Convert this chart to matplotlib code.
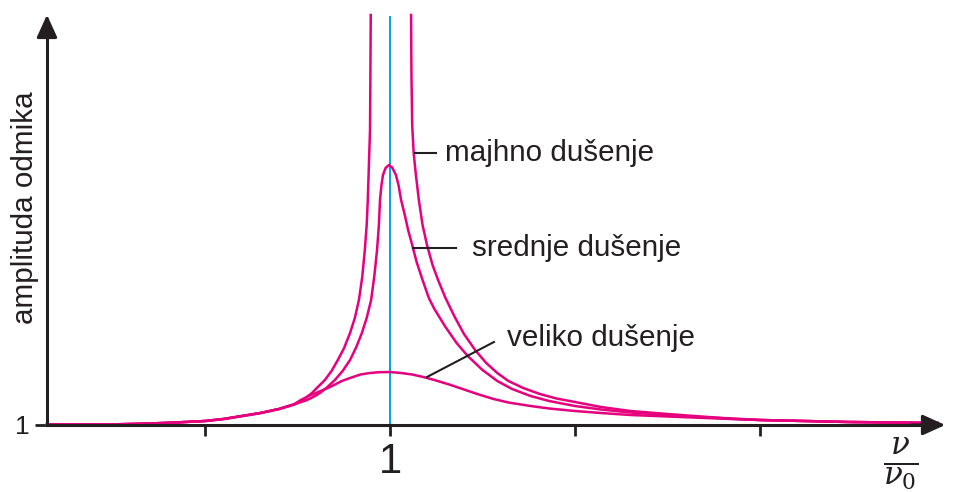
import matplotlib
matplotlib.use('Agg')
import matplotlib.pyplot as plt
import numpy as np

plt.rcParams['font.family'] = ['Liberation Sans', 'DejaVu Sans']
plt.rcParams['mathtext.fontset'] = 'dejavuserif'

# values (x = nu/nu0, y = amplitude, 1 at the axis)
x_common = [0.073, 0.15, 0.25, 0.35, 0.42, 0.5, 0.55, 0.6, 0.65, 0.7, 0.74]
y_common = [1.005, 1.005, 1.006, 1.015, 1.025, 1.04, 1.06, 1.09, 1.12, 1.16, 1.205]

x_large = [0.757, 0.78, 0.80, 0.838, 0.87, 0.892, 0.92, 0.946, 0.97,
           1.0, 1.03, 1.06, 1.09, 1.12, 1.16, 1.20, 1.24, 1.28, 1.32, 1.38,
           1.43, 1.5, 1.57, 1.65, 1.75, 1.84, 1.92, 2.0, 2.12, 2.24, 2.36, 2.48]
y_large = [1.245, 1.29, 1.32, 1.38, 1.44, 1.47, 1.505, 1.52, 1.528,
           1.53, 1.52, 1.505, 1.48, 1.45, 1.405, 1.355, 1.305, 1.26, 1.225, 1.19,
           1.165, 1.14, 1.12, 1.10, 1.085, 1.072, 1.06, 1.05, 1.04, 1.03, 1.025, 1.02]

x_mid = [0.776, 0.795, 0.811, 0.831, 0.851, 0.872, 0.892, 0.909, 0.924, 0.937,
         0.949, 0.958, 0.965, 0.970, 0.973, 0.977, 0.981, 0.988, 0.997, 1.006,
         1.016, 1.023, 1.030, 1.040, 1.049, 1.060, 1.072, 1.088, 1.105, 1.12,
         1.15, 1.18, 1.21, 1.25, 1.29, 1.33, 1.38, 1.43, 1.5, 1.57, 1.65, 1.75,
         1.84, 1.92, 2.0, 2.12, 2.24, 2.36, 2.48]
y_mid = [1.25, 1.285, 1.32, 1.38, 1.45, 1.54, 1.65, 1.78, 1.92, 2.07,
         2.25, 2.50, 2.75, 3.00, 3.25, 3.40, 3.50, 3.57, 3.60, 3.575,
         3.50, 3.40, 3.25, 3.10, 2.95, 2.80, 2.63, 2.45, 2.27, 2.16,
         1.98, 1.82, 1.69, 1.55, 1.44, 1.36, 1.29, 1.24, 1.19, 1.155, 1.125, 1.10,
         1.08, 1.063, 1.05, 1.04, 1.03, 1.025, 1.02]

x_small_l = [0.765, 0.789, 0.805, 0.824, 0.842, 0.859, 0.876, 0.892, 0.905,
             0.916, 0.925, 0.932, 0.937, 0.940, 0.943, 0.946, 0.947, 0.948]
y_small_l = [1.25, 1.32, 1.38, 1.45, 1.54, 1.65, 1.77, 1.92, 2.07,
             2.25, 2.48, 2.75, 3.00, 3.25, 3.60, 3.95, 4.50, 5.10]
x_small_r = [1.057, 1.058, 1.060, 1.064, 1.070, 1.078, 1.088, 1.10, 1.115, 1.13,
             1.15, 1.175, 1.20, 1.23, 1.26, 1.29, 1.32, 1.36, 1.405, 1.45, 1.5,
             1.57, 1.65, 1.75, 1.84, 1.92, 2.0, 2.12, 2.24, 2.36, 2.48]
y_small_r = [5.10, 4.50, 4.00, 3.72, 3.50, 3.25, 3.00, 2.80, 2.60, 2.45,
             2.27, 2.08, 1.91, 1.75, 1.62, 1.52, 1.44, 1.37, 1.31, 1.265, 1.23,
             1.18, 1.14, 1.11, 1.085, 1.065, 1.05, 1.04, 1.03, 1.025, 1.02]

ticks = [0.5, 1.0, 1.5, 2.0]
tick_labels = ['', '1', '', '']

labels = ['majhno dušenje', 'srednje dušenje', 'veliko dušenje']

magenta = '#e6007e'
blue = '#00a3e0'
dark = '#231f20'

fig = plt.figure(figsize=(9.55, 4.92), dpi=100)
ax = fig.add_axes([0, 0, 1, 1])
ax.set_xlim(-0.054, 2.527)
ax.set_ylim(0.33, 5.25)

# curves
ax.plot(x_common + x_large, y_common + y_large, color=magenta, lw=1.8)
ax.plot(x_common + x_mid, y_common + y_mid, color=magenta, lw=1.8)
ax.plot(x_common + x_small_l, y_common + y_small_l, color=magenta, lw=1.8)
ax.plot(x_small_r, y_small_r, color=magenta, lw=1.8)
ax.plot([1, 1], [1, 5.08], color=blue, lw=1.4, zorder=1)

# axes
for s in ['top', 'right']:
    ax.spines[s].set_visible(False)
ax.spines['left'].set_position(('data', 0.073))
ax.spines['bottom'].set_position(('data', 1))
ax.spines['left'].set_bounds(1, 5.0)
ax.spines['bottom'].set_bounds(0.073, 2.45)
for s in ['left', 'bottom']:
    ax.spines[s].set_linewidth(2.2)
    ax.spines[s].set_color(dark)

ax.set_xticks(ticks)
ax.set_xticklabels(tick_labels, fontsize=30, color=dark)
ax.tick_params(axis='x', direction='out', length=8, width=2, color=dark, pad=4)
ax.set_yticks([1])
ax.set_yticklabels(['1'], fontsize=19, color=dark)
ax.tick_params(axis='y', direction='out', length=8.5, width=2, color=dark, pad=4)

ax.annotate('', xy=(0.073, 5.13), xytext=(0.073, 4.9),
            arrowprops=dict(arrowstyle='-|>,head_length=0.55,head_width=0.25',
                            mutation_scale=25, lw=2.2, color=dark))
ax.annotate('', xy=(2.508, 1), xytext=(2.4, 1),
            arrowprops=dict(arrowstyle='-|>,head_length=0.55,head_width=0.25',
                            mutation_scale=25, lw=2.2, color=dark))

ax.text(0.014, 3.17, 'amplituda odmika', rotation=90, fontsize=21.3,
        ha='center', va='center', color=dark)
ax.text(2.38, 0.6, r'$\frac{\nu}{\nu_0}$', fontsize=32, ha='center',
        va='center', color=dark)

# annotations
ax.plot([1.068, 1.124], [3.72, 3.72], color=dark, lw=1.5)
ax.text(1.149, 3.72, labels[0], fontsize=21.3, va='center', color=dark)
ax.plot([1.062, 1.178], [2.77, 2.77], color=dark, lw=1.5)
ax.text(1.222, 2.77, labels[1], fontsize=21.3, va='center', color=dark)
ax.plot([1.100, 1.281], [1.48, 1.83], color=dark, lw=1.5)
ax.text(1.316, 1.87, labels[2], fontsize=21.3, va='center', color=dark)

fig.savefig('out.png', dpi=100)
